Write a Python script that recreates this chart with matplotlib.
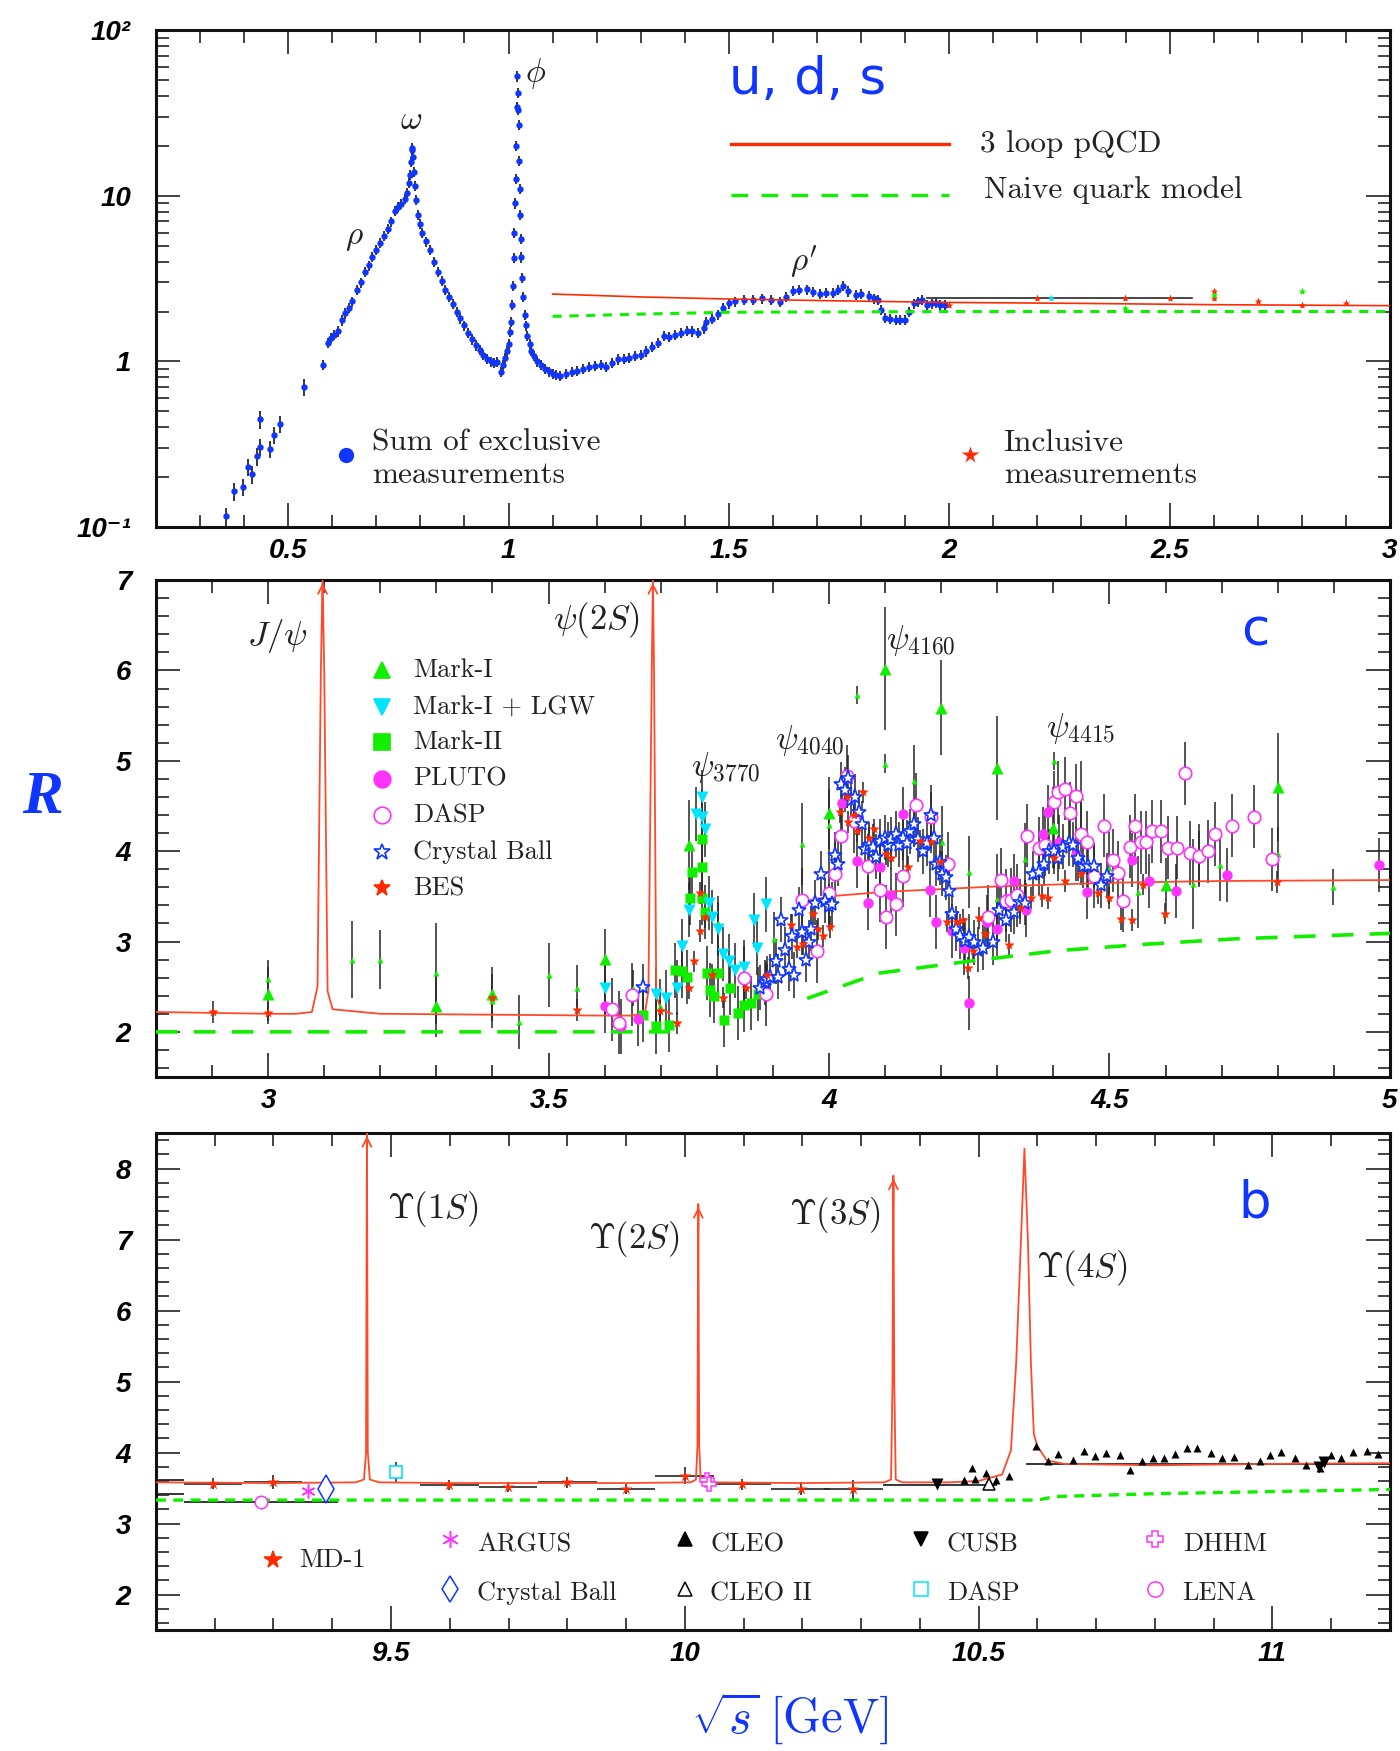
import numpy as np
import matplotlib
matplotlib.use("Agg")
import matplotlib.pyplot as plt
from matplotlib.ticker import MultipleLocator, LogLocator, NullFormatter

plt.rcParams['mathtext.fontset'] = 'cm'

BLUE = '#0f35ff'
RED = '#ff2a00'
LRED = '#ff4a2a'
GREEN = '#11ee00'
CYAN = '#00e5ff'
MAGENTA = '#ff33ff'
ERRC = '#262626'
TXT = '#222222'
SERIF = 'cmr10'

# ---------------- panel 1: u, d, s (log scale) ----------------
excl_x = [0.359, 0.378, 0.397, 0.408, 0.418, 0.429, 0.436, 0.437, 0.458, 0.467, 0.481, 0.537, 0.578,
          0.590, 0.597, 0.604, 0.612, 0.622, 0.630, 0.637, 0.645, 0.657, 0.665, 0.674, 0.683, 0.691,
          0.700, 0.709, 0.718, 0.726, 0.734, 0.742, 0.750, 0.757, 0.764, 0.770, 0.774, 0.776, 0.778,
          0.780, 0.782, 0.783, 0.785, 0.787, 0.790, 0.794, 0.799, 0.804, 0.812, 0.822, 0.830, 0.839,
          0.848, 0.857, 0.866, 0.874, 0.882, 0.891, 0.900, 0.909, 0.917, 0.926, 0.935, 0.943, 0.952,
          0.961, 0.968, 0.974, 0.983, 0.987, 0.991, 0.996, 1.000, 1.004, 1.006, 1.008, 1.010, 1.012,
          1.013, 1.015, 1.017, 1.018, 1.019, 1.020, 1.021, 1.022, 1.023, 1.024, 1.025, 1.026, 1.028,
          1.029, 1.031, 1.033, 1.037, 1.040, 1.043, 1.048, 1.052, 1.058, 1.065, 1.074, 1.083, 1.092,
          1.100, 1.108, 1.117, 1.130, 1.143, 1.156, 1.170, 1.183, 1.196, 1.209, 1.222, 1.235, 1.248,
          1.261, 1.274, 1.287, 1.300, 1.313, 1.326, 1.339, 1.352, 1.365, 1.378, 1.391, 1.404, 1.417,
          1.430, 1.444, 1.448, 1.461, 1.475, 1.487, 1.500, 1.515, 1.535, 1.555, 1.576, 1.596, 1.616,
          1.630, 1.646, 1.660, 1.677, 1.690, 1.707, 1.720, 1.737, 1.748, 1.758, 1.770, 1.788, 1.800,
          1.818, 1.830, 1.838, 1.846, 1.854, 1.866, 1.879, 1.889, 1.899, 1.909, 1.919, 1.929, 1.939,
          1.950, 1.960, 1.970, 1.980, 1.990]
excl_y = [0.116, 0.164, 0.175, 0.23, 0.208, 0.267, 0.305, 0.446, 0.295, 0.36, 0.418, 0.698, 0.95,
          1.30, 1.38, 1.45, 1.52, 1.77, 1.95, 2.11, 2.30, 2.71, 3.0, 3.47, 3.8, 4.28,
          4.7, 5.17, 5.7, 6.32, 7.0, 8.1, 8.6, 8.96, 9.6, 10.4, 12.0, 13.4, 16.0,
          18.9, 19.5, 17.1, 14.0, 11.5, 9.4, 7.7, 6.8, 6.0, 5.3, 4.69, 4.0, 3.47,
          3.05, 2.71, 2.45, 2.22, 2.0, 1.82, 1.65, 1.49, 1.36, 1.25, 1.17, 1.10, 1.04,
          1.0, 0.98, 0.996, 0.86, 0.95, 1.05, 1.15, 1.28, 1.5, 1.73, 2.2, 2.85, 4.2,
          6.0, 9.0, 12.7, 20.0, 34.4, 52.6, 42.0, 33.0, 26.9, 16.3, 11.0, 7.7, 5.5,
          4.25, 3.2, 2.46, 1.91, 1.65, 1.42, 1.28, 1.16, 1.08, 1.0, 0.95, 0.905, 0.87,
          0.84, 0.83, 0.82, 0.84, 0.86, 0.88, 0.905, 0.93, 0.94, 0.95, 0.93, 0.98, 1.03,
          1.04, 1.05, 1.08, 1.10, 1.15, 1.22, 1.30, 1.42, 1.40, 1.45, 1.48, 1.53, 1.52,
          1.49, 1.58, 1.73, 1.80, 1.92, 2.10, 2.24, 2.30, 2.34, 2.36, 2.40, 2.35, 2.29,
          2.45, 2.66, 2.70, 2.72, 2.62, 2.57, 2.60, 2.59, 2.70, 2.87, 2.65, 2.53, 2.55,
          2.47, 2.40, 2.35, 2.05, 1.83, 1.80, 1.79, 1.78, 1.79, 2.00, 2.24, 2.30, 2.34,
          2.20, 2.24, 2.25, 2.18, 2.20]
EXCL_REL_ERR_LOW = 0.12   # below 0.55 GeV
EXCL_REL_ERR = 0.07

incl_red_x = [2.0, 2.2, 2.4, 2.5, 2.6, 2.6, 2.7, 2.8, 2.9]
incl_red_y = [2.20, 2.40, 2.40, 2.40, 2.66, 2.40, 2.33, 2.18, 2.24]
incl_green_x = [2.4, 2.6, 2.8]
incl_green_y = [2.10, 2.53, 2.66]
incl_cyan_x = [2.232]
incl_cyan_y = [2.40]
incl_bar = (1.95, 2.55, 2.40)

pqcd1_x = [1.10, 1.30, 1.50, 1.75, 2.00, 2.30, 2.60, 3.00]
pqcd1_y = [2.55, 2.45, 2.38, 2.32, 2.27, 2.24, 2.20, 2.17]
naive1_x = [1.10, 1.30, 1.50, 2.00, 3.00]
naive1_y = [1.87, 1.93, 1.98, 2.00, 2.00]

# ---------------- panel 2: charm region ----------------
pqcd2_x = [2.80, 2.90, 3.00, 3.05, 3.078, 3.088, 3.094, 3.097, 3.100, 3.106, 3.115, 3.20, 3.40, 3.60,
           3.650, 3.672, 3.678, 3.684, 3.686, 3.688, 3.692, 3.700, 3.720, np.nan,
           3.96, 4.00, 4.10, 4.20, 4.30, 4.50, 4.70, 5.00]
pqcd2_y = [2.22, 2.21, 2.20, 2.20, 2.22, 2.50, 6.00, 7.00, 6.00, 2.45, 2.25, 2.20, 2.19, 2.18,
           2.18, 2.22, 2.45, 6.00, 7.00, 6.00, 2.40, 2.25, 2.20, np.nan,
           3.45, 3.50, 3.55, 3.58, 3.61, 3.65, 3.67, 3.68]
peaks2_x = [3.097, 3.686]
naive2_x = [2.80, 3.716, np.nan, 3.961, 4.089, 4.248, 4.410, 4.565, 4.725, 5.00]
naive2_y = [2.00, 2.00, np.nan, 2.37, 2.65, 2.78, 2.90, 2.97, 3.03, 3.09]

mk1_big_x = [3.00, 3.30, 3.40, 3.60, 3.75, 4.00, 4.10, 4.20, 4.30, 4.40, 4.60, 4.80]
mk1_big_y = [2.42, 2.29, 2.42, 2.81, 4.07, 4.42, 6.02, 5.59, 4.92, 4.26, 3.62, 4.71]
mk1_big_e = [0.30, 0.35, 0.30, 0.33, 0.50, 0.40, 0.68, 0.53, 0.58, 0.45, 0.30, 0.60]
mk1_sm_x = [3.00, 3.15, 3.20, 3.30, 3.40, 3.448, 3.50, 3.55, 3.65, 3.698, 3.802, 3.901, 3.951, 4.00,
            4.049, 4.099, 4.151, 4.201, 4.25, 4.30, 4.349, 4.401, 4.45, 4.50, 4.55, 4.649, 4.697,
            4.80, 4.898]
mk1_sm_y = [2.59, 2.80, 2.80, 2.65, 2.34, 2.11, 2.63, 2.49, 2.49, 2.29, 3.20, 3.03, 4.08, 4.29,
            5.73, 4.97, 4.78, 4.10, 3.77, 3.47, 3.91, 5.00, 4.60, 3.81, 3.55, 3.64, 3.85,
            3.97, 3.60]
mk1_sm_e = [0.20, 0.43, 0.33, 0.56, 0.30, 0.30, 0.35, 0.25, 0.20, 0.30, 0.30, 0.30, 0.45, 0.40,
            0.10, 0.10, 0.40, 0.40, 0.40, 0.50, 0.40, 0.10, 0.40, 0.40, 0.40, 0.50, 0.40,
            0.30, 0.20]

lgw_x = [3.600, 3.692, 3.710, 3.729, 3.738, 3.750, 3.762, 3.774, 3.774, 3.779, 3.786, 3.792, 3.802,
         3.811, 3.821, 3.832, 3.849, 3.867, 3.871, 3.887]
lgw_y = [2.48, 2.42, 2.38, 2.49, 2.95, 3.35, 4.41, 4.60, 4.38, 4.24, 3.43, 3.27, 3.14,
         2.86, 2.78, 2.68, 2.72, 3.24, 2.93, 3.41]
LGW_ERR = 0.30

mk2_x = [3.669, 3.692, 3.714, 3.726, 3.738, 3.746, 3.752, 3.756, 3.774, 3.774, 3.774, 3.778, 3.782,
         3.802, 3.787, 3.795, 3.813, 3.823, 3.837, 3.849, 3.861, 3.873]
mk2_y = [2.19, 2.06, 2.08, 2.68, 2.67, 2.61, 3.48, 3.77, 4.13, 3.83, 3.48, 3.33, 2.65,
         2.65, 2.46, 2.40, 2.13, 2.49, 2.21, 2.30, 2.32, 2.42]
MK2_ERR = 0.30

pluto_x = [3.600, 3.629, 3.659, 4.024, 4.049, 4.070, 4.090, 4.111, 4.131, 4.180, 4.190, 4.220, 4.240,
           4.250, 4.282, 4.300, 4.329, 4.352, 4.381, 4.390, 4.410, 4.440, 4.460, 4.540, 4.570,
           4.619, 4.659, 4.710, 4.980]
pluto_y = [2.29, 2.06, 2.14, 4.53, 3.89, 3.43, 3.83, 3.51, 4.41, 3.57, 3.22, 3.12, 2.93,
           2.32, 3.22, 3.14, 3.67, 3.35, 4.19, 4.43, 4.10, 3.97, 3.55, 3.90, 3.67,
           3.56, 3.92, 3.74, 3.85]
PLUTO_ERR = 0.30

dasp_x = [3.613, 3.625, 3.649, 3.848, 3.887, 3.951, 3.978, 4.000, 4.010, 4.021, 4.032, 4.044, 4.070,
          4.090, 4.102, 4.119, 4.131, 4.155, 4.181, 4.213, 4.284, 4.306, 4.316, 4.325, 4.335,
          4.353, 4.375, 4.385, 4.401, 4.409, 4.421, 4.430, 4.440, 4.450, 4.460, 4.472, 4.490,
          4.506, 4.516, 4.525, 4.536, 4.546, 4.556, 4.565, 4.575, 4.591, 4.605, 4.621, 4.635,
          4.643, 4.659, 4.675, 4.689, 4.718, 4.758, 4.790]
dasp_y = [2.25, 2.10, 2.41, 2.60, 2.42, 3.46, 2.89, 3.54, 3.75, 4.17, 4.83, 4.33, 3.84,
          3.57, 3.27, 3.41, 3.73, 4.51, 4.38, 3.86, 3.27, 3.68, 3.45, 3.46, 3.51,
          4.17, 4.03, 4.07, 4.54, 4.65, 4.69, 4.42, 4.61, 4.19, 4.10, 3.72, 4.28,
          3.90, 3.76, 3.45, 4.05, 4.28, 4.10, 4.10, 4.22, 4.22, 4.04, 4.04, 4.86,
          3.98, 3.95, 4.00, 4.19, 4.28, 4.38, 3.91]
DASP_ERR = 0.35

cb_x = [3.669, 3.877, 3.885, 3.889, 3.895, 3.905, 3.909, 3.915, 3.921, 3.929, 3.934, 3.938, 3.946,
        3.952, 3.959, 3.964, 3.968, 3.975, 3.986, 3.992, 4.000, 4.006, 4.010, 4.016, 4.022,
        4.028, 4.033, 4.040, 4.046, 4.053, 4.058, 4.065, 4.071, 4.078, 4.084, 4.091, 4.099,
        4.105, 4.111, 4.119, 4.125, 4.131, 4.139, 4.144, 4.151, 4.159, 4.167, 4.175, 4.181,
        4.187, 4.190, 4.197, 4.202, 4.208, 4.214, 4.220, 4.226, 4.234, 4.242, 4.250, 4.258,
        4.266, 4.274, 4.292, 4.303, 4.316, 4.329, 4.340, 4.349, 4.363, 4.375, 4.383, 4.393,
        4.401, 4.409, 4.417, 4.427, 4.435, 4.443, 4.452, 4.462, 4.472, 4.484, 4.496]
cb_y = [2.50, 2.49, 2.55, 2.59, 2.61, 2.78, 2.61, 3.24, 2.91, 2.70, 3.06, 2.63, 3.35,
        3.10, 2.80, 2.99, 3.14, 3.43, 3.75, 3.45, 3.39, 3.41, 3.96, 3.86, 4.74,
        4.68, 4.81, 4.57, 4.60, 4.43, 4.30, 4.02, 4.07, 4.05, 3.94, 4.11, 4.15,
        4.07, 4.13, 4.19, 4.07, 4.15, 4.09, 4.22, 4.30, 4.13, 4.00, 4.09, 4.40,
        4.15, 3.86, 3.88, 3.75, 3.71, 3.56, 3.31, 3.14, 3.06, 3.01, 3.05, 2.99,
        2.91, 2.93, 2.99, 3.35, 3.24, 3.33, 3.44, 3.43, 3.75, 3.77, 3.86, 4.00,
        4.00, 3.92, 4.05, 4.09, 4.07, 3.92, 3.84, 3.84, 3.84, 3.62, 3.73]
CB_ERR = 0.25

bes_x = [2.901, 3.000, 3.399, 3.550, 3.698, 3.729, 3.750, 3.760, 3.770, 3.778, 3.770, 3.792, 3.811,
         3.852, 3.889, 3.933, 3.943, 3.954, 3.972, 3.980, 3.990, 4.002, 4.020, 4.032, 4.034,
         4.044, 4.049, 4.061, 4.071, 4.081, 4.102, 4.111, 4.140, 4.163, 4.181, 4.198, 4.210,
         4.229, 4.238, 4.248, 4.256, 4.268, 4.278, 4.321, 4.340, 4.360, 4.379, 4.390, 4.401,
         4.421, 4.450, 4.479, 4.500, 4.520, 4.540, 4.560, 4.599, 4.798]
bes_y = [2.22, 2.21, 2.38, 2.24, 2.23, 2.10, 2.48, 2.78, 3.54, 3.27, 3.12, 2.63, 2.38,
         2.48, 2.63, 3.18, 2.94, 2.97, 3.30, 3.14, 3.06, 3.16, 4.43, 4.60, 4.32,
         4.40, 4.22, 4.65, 4.15, 4.24, 3.97, 3.92, 3.83, 4.11, 4.10, 3.88, 3.22,
         3.22, 3.24, 2.71, 2.89, 3.26, 3.08, 2.96, 3.37, 3.48, 3.50, 3.48, 3.92,
         3.67, 3.75, 3.54, 3.48, 3.25, 3.24, 3.63, 3.31, 3.66]
BES_ERR = 0.12

# ---------------- panel 3: bottom (Upsilon) region ----------------
pqcd3_x = [9.10, 9.30, 9.440, 9.454, 9.4575, 9.459, 9.4605, 9.464, 9.480, 9.60, 9.90, 10.010, 10.019,
           10.0215, 10.023, 10.0245, 10.027, 10.040, 10.20, 10.340, 10.351, 10.3535, 10.355, 10.3565,
           10.359, 10.370, 10.45, 10.50, 10.540, 10.555, 10.564, 10.572, 10.578, 10.584, 10.589,
           10.594, 10.600, 10.616, 10.646, 10.80, 11.00, 11.20]
pqcd3_y = [3.58, 3.57, 3.58, 3.62, 4.00, 8.60, 4.00, 3.62, 3.58, 3.57, 3.57, 3.58, 3.62,
           4.10, 7.50, 4.10, 3.62, 3.58, 3.57, 3.58, 3.62, 5.00, 7.90, 5.00,
           3.62, 3.58, 3.58, 3.60, 3.69, 4.03, 5.27, 6.97, 8.28, 6.97, 5.27,
           4.26, 4.09, 3.89, 3.84, 3.82, 3.84, 3.85]
peaks3_x = [9.459, 10.023, 10.355]
peaks3_top = [8.5, 7.5, 7.9]
naive3_x = [9.10, 10.60, 10.63, 10.80, 11.00, 11.20]
naive3_y = [3.33, 3.33, 3.38, 3.42, 3.45, 3.48]

md1_x = [9.197, 9.299, 9.599, 9.699, 9.800, 9.900, 10.000, 10.097, 10.197, 10.287]
md1_y = [3.56, 3.59, 3.54, 3.51, 3.58, 3.49, 3.67, 3.55, 3.49, 3.48]
md1_e = [0.08, 0.10, 0.07, 0.07, 0.08, 0.07, 0.12, 0.08, 0.09, 0.14]
MD1_XERR = 0.05

cleo_x = [10.475, 10.489, 10.494, 10.513, 10.530, 10.551, 10.598, 10.618, 10.635, 10.660, 10.680,
          10.698, 10.717, 10.740, 10.758, 10.778, 10.797, 10.816, 10.835, 10.854, 10.872, 10.896,
          10.915, 10.935, 10.958, 10.979, 10.996, 11.015, 11.038, 11.058, 11.081, 11.100, 11.116,
          11.138, 11.161, 11.179]
cleo_y = [3.62, 3.78, 3.63, 3.71, 3.62, 3.67, 4.09, 3.88, 3.98, 3.90, 4.02,
          3.95, 3.99, 3.97, 3.76, 3.88, 3.92, 3.92, 3.98, 4.06, 4.06, 3.99,
          3.92, 3.93, 3.82, 3.88, 3.97, 4.01, 3.92, 3.82, 3.78, 3.96, 3.92,
          4.01, 4.02, 3.98]
cusb_x = [10.429, 11.080, 11.088]
cusb_y = [3.55, 3.80, 3.86]
cleo2_x = [10.518]
cleo2_y = [3.55]
argus_x = [9.358]
argus_y = [3.46]
cball3_x = [9.389]
cball3_y = [3.48]
dasp3_x = [9.509]
dasp3_y = [3.72]
dasp3_e = [0.14]
dhhm_x = [10.037, 10.042]
dhhm_y = [3.61, 3.56]
lena_x = [9.279]
lena_y = [3.31]
hbar_x0 = [9.100, 9.100, 9.148, 10.338, 10.580]
hbar_x1 = [9.148, 9.148, 9.410, 10.532, 11.200]
hbar_y = [3.62, 3.41, 3.31, 3.54, 3.84]


def style_axes(ax, xticks, xlabels, yticks=None, ylabels=None):
    lab = dict(fontstyle='italic', fontweight='bold', family=['Liberation Sans', 'DejaVu Sans'],
               fontsize=20)
    ax.set_xticks(xticks, xlabels, **lab)
    if yticks is not None:
        ax.set_yticks(yticks, ylabels, **lab)
    ax.xaxis.set_minor_locator(MultipleLocator(0.1))
    ax.tick_params(which='both', direction='in', top=True, right=True, width=1.2, color='#222222')
    ax.tick_params(which='major', length=17)
    ax.tick_params(which='minor', length=9)
    ax.tick_params(axis='x', which='major', pad=8)
    ax.tick_params(axis='y', which='major', pad=18)
    for s in ax.spines.values():
        s.set_linewidth(2.2)
        s.set_color('#111111')


fig = plt.figure(figsize=(14, 17.51), dpi=100)
ax1 = fig.add_axes([0.1114, 0.6990, 0.8814, 0.2838])
ax2 = fig.add_axes([0.1114, 0.3849, 0.8814, 0.2838])
ax3 = fig.add_axes([0.1114, 0.0691, 0.8814, 0.2838])

# ---------- panel 1 ----------
ex = np.array(excl_x)
ey = np.array(excl_y)
rel = np.where(ex < 0.55, EXCL_REL_ERR_LOW, EXCL_REL_ERR)
ax1.errorbar(ex, ey, yerr=ey * rel, fmt='none', ecolor=ERRC, elinewidth=1.3, zorder=2)
ax1.plot(ex, ey, 'o', ms=4.6, color=BLUE, mec='none', zorder=3)
ax1.plot(pqcd1_x, pqcd1_y, '-', color=RED, lw=1.2, zorder=4)
ax1.plot(naive1_x, naive1_y, color=GREEN, lw=2.2, ls=(0, (3, 2.5)), zorder=4)
ax1.plot([incl_bar[0], incl_bar[1]], [incl_bar[2], incl_bar[2]], color=ERRC, lw=1.2, zorder=2)
ax1.errorbar(incl_red_x, incl_red_y, yerr=0.06, fmt='none', ecolor=ERRC, elinewidth=1, zorder=2)
ax1.plot(incl_red_x, incl_red_y, '*', ms=6, color=RED, mec='none', zorder=5)
ax1.plot(incl_green_x, incl_green_y, '*', ms=6, color=GREEN, mec='none', zorder=5)
ax1.plot(incl_cyan_x, incl_cyan_y, '*', ms=6, color=CYAN, mec='none', zorder=5)
ax1.set_yscale('log')
ax1.set_xlim(0.2, 3.0)
ax1.set_ylim(0.1, 100)
style_axes(ax1, [0.5, 1, 1.5, 2, 2.5, 3], ['0.5', '1', '1.5', '2', '2.5', '3'],
           [0.1, 1, 10, 100], ['10\u207b\u00b9', '1', '10', '10\u00b2'])
ax1.yaxis.set_minor_locator(LogLocator(base=10, subs=np.arange(2, 10)))
ax1.yaxis.set_minor_formatter(NullFormatter())

T = ax1.transAxes
ax1.text(0.161, 0.584, r'$\rho$', transform=T, fontsize=24, color=TXT, ha='center', va='center')
ax1.text(0.207, 0.821, r'$\omega$', transform=T, fontsize=24, color=TXT, ha='center', va='center')
ax1.text(0.308, 0.913, r'$\phi$', transform=T, fontsize=24, color=TXT, ha='center', va='center')
ax1.text(0.525, 0.533, r"$\rho'$", transform=T, fontsize=24, color=TXT, ha='center', va='center')
ax1.text(0.528, 0.899, 'u, d, s', transform=T, fontsize=37, color=BLUE, ha='center', va='center',
         family='DejaVu Sans')
ax1.plot([0.466, 0.643], [0.771, 0.771], transform=T, color=RED, lw=2.4)
ax1.plot([0.466, 0.643], [0.668, 0.668], transform=T, color=GREEN, lw=2.4, ls=(0, (5, 4)))
ax1.text(0.668, 0.771, '3 loop pQCD', transform=T, fontsize=22.5, family=SERIF, color=TXT,
         va='center')
ax1.text(0.671, 0.678, 'Naive quark model', transform=T, fontsize=22.5, family=SERIF, color=TXT,
         va='center')
ax1.plot([0.154], [0.145], 'o', transform=T, ms=11, color=BLUE, mec='none')
ax1.text(0.175, 0.137, 'Sum of exclusive\nmeasurements', transform=T, fontsize=22.5, family=SERIF,
         color=TXT, va='center', linespacing=1.2)
ax1.plot([0.660], [0.145], '*', transform=T, ms=13, color=RED, mec='none')
ax1.text(0.687, 0.137, 'Inclusive\nmeasurements', transform=T, fontsize=22.5, family=SERIF,
         color=TXT, va='center', linespacing=1.2)

# ---------- panel 2 ----------
ebk = dict(fmt='none', ecolor=ERRC, elinewidth=1.1, zorder=2)
ax2.errorbar(mk1_big_x, mk1_big_y, yerr=mk1_big_e, **ebk)
ax2.errorbar(mk1_sm_x, mk1_sm_y, yerr=mk1_sm_e, **ebk)
ax2.errorbar(lgw_x, lgw_y, yerr=LGW_ERR, **ebk)
ax2.errorbar(mk2_x, mk2_y, yerr=MK2_ERR, **ebk)
ax2.errorbar(pluto_x, pluto_y, yerr=PLUTO_ERR, **ebk)
ax2.errorbar(dasp_x, dasp_y, yerr=DASP_ERR, **ebk)
ax2.errorbar(cb_x, cb_y, yerr=CB_ERR, **ebk)
ax2.errorbar(bes_x, bes_y, yerr=BES_ERR, **ebk)

ax2.plot(pqcd2_x, pqcd2_y, '-', color=LRED, lw=1.3, zorder=3)
ax2.plot(naive2_x, naive2_y, color=GREEN, lw=2.6, ls=(0, (6, 4.5)), zorder=3)
for px in peaks2_x:
    ax2.annotate('', xy=(px, 7.0), xytext=(px, 6.5),
                 arrowprops=dict(arrowstyle='->', color=LRED, lw=1.3, mutation_scale=16))

ax2.plot(mk2_x, mk2_y, 's', ms=7.5, color=GREEN, mec='none', zorder=4)
ax2.plot(mk1_big_x, mk1_big_y, '^', ms=8.5, color=GREEN, mec='none', zorder=4)
ax2.plot(mk1_sm_x, mk1_sm_y, '^', ms=4.5, color=GREEN, mec='none', zorder=4)
ax2.plot(lgw_x, lgw_y, 'v', ms=8.5, color=CYAN, mec='none', zorder=4)
ax2.plot(pluto_x, pluto_y, 'o', ms=7.5, color=MAGENTA, mec='none', zorder=4)
ax2.plot(dasp_x, dasp_y, 'o', ms=9, mfc='white', mec=MAGENTA, mew=1.2, zorder=4)
ax2.plot(cb_x, cb_y, '*', ms=11, mfc='white', mec=BLUE, mew=1.2, zorder=5)
ax2.plot(bes_x, bes_y, '*', ms=7.5, color=RED, mec='none', zorder=6)

ax2.set_xlim(2.8, 5.0)
ax2.set_ylim(1.5, 7.0)
style_axes(ax2, [3, 3.5, 4, 4.5, 5], ['3', '3.5', '4', '4.5', '5'],
           [2, 3, 4, 5, 6, 7], ['2', '3', '4', '5', '6', '7'])
ax2.yaxis.set_minor_locator(MultipleLocator(0.2))

T = ax2.transAxes
ax2.text(0.098, 0.887, r'$J/\psi$', transform=T, fontsize=25, color=TXT, ha='center', va='center')
ax2.text(0.357, 0.920, r'$\psi(2S)$', transform=T, fontsize=25, color=TXT, ha='center', va='center')
ax2.text(0.462, 0.622, r'$\psi_{3770}$', transform=T, fontsize=24, color=TXT, ha='center', va='center')
ax2.text(0.530, 0.678, r'$\psi_{4040}$', transform=T, fontsize=24, color=TXT, ha='center', va='center')
ax2.text(0.620, 0.879, r'$\psi_{4160}$', transform=T, fontsize=24, color=TXT, ha='center', va='center')
ax2.text(0.749, 0.702, r'$\psi_{4415}$', transform=T, fontsize=24, color=TXT, ha='center', va='center')
ax2.text(0.891, 0.897, 'c', transform=T, fontsize=37, color=BLUE, ha='center', va='center',
         family='DejaVu Sans')

leg2 = [('^', GREEN, GREEN, 'Mark-I'), ('v', CYAN, CYAN, 'Mark-I + LGW'),
        ('s', GREEN, GREEN, 'Mark-II'), ('o', MAGENTA, MAGENTA, 'PLUTO'),
        ('o', 'white', MAGENTA, 'DASP'), ('*', 'white', BLUE, 'Crystal Ball'),
        ('*', RED, RED, 'BES')]
rows2 = [0.819, 0.744, 0.674, 0.600, 0.527, 0.453, 0.380]
for (m, fc, ec, name), ry in zip(leg2, rows2):
    ax2.plot([0.183], [ry], m, transform=T, ms=12, mfc=fc, mec=ec, mew=1.2)
    ax2.text(0.208, ry, name, transform=T, fontsize=19, family=SERIF, color=TXT, va='center')

# ---------- panel 3 ----------
ax3.plot(pqcd3_x, pqcd3_y, '-', color=LRED, lw=1.3, zorder=3)
ax3.plot(naive3_x, naive3_y, color=GREEN, lw=2.4, ls=(0, (3, 2.2)), zorder=3)
for px, top in zip(peaks3_x, peaks3_top):
    ax3.annotate('', xy=(px, top), xytext=(px, top - 0.4),
                 arrowprops=dict(arrowstyle='->', color=LRED, lw=1.3, mutation_scale=16))
ax3.hlines(hbar_y, hbar_x0, hbar_x1, color=ERRC, lw=1.3, zorder=2)
ax3.errorbar(md1_x, md1_y, yerr=md1_e, xerr=MD1_XERR, fmt='none', ecolor=ERRC, elinewidth=1.2,
             zorder=2)
ax3.errorbar(dasp3_x, dasp3_y, yerr=dasp3_e, fmt='none', ecolor=ERRC, elinewidth=1.1, zorder=2)
ax3.plot(md1_x, md1_y, '*', ms=9, color=RED, mec='none', zorder=5)
ax3.plot(cleo_x, cleo_y, '^', ms=5.5, color='black', mec='none', zorder=5)
ax3.plot(cusb_x, cusb_y, 'v', ms=8, color='black', mec='none', zorder=5)
ax3.plot(cleo2_x, cleo2_y, '^', ms=9, mfc='white', mec='black', mew=1.1, zorder=5)
ax3.plot(argus_x, argus_y, marker=(6, 2, 0), ms=10, color=MAGENTA, mew=1.1, ls='none', zorder=5)
ax3.plot(cball3_x, cball3_y, 'd', ms=14, mfc='white', mec=BLUE, mew=1.1, zorder=5)
ax3.plot(dasp3_x, dasp3_y, 's', ms=8.5, mfc='white', mec=CYAN, mew=1.2, zorder=5)
ax3.plot(dhhm_x, dhhm_y, 'P', ms=10, mfc='white', mec=MAGENTA, mew=1.1, zorder=5)
ax3.plot(lena_x, lena_y, 'o', ms=9, mfc='white', mec=MAGENTA, mew=1.1, zorder=5)

ax3.set_xlim(9.1, 11.2)
ax3.set_ylim(1.5, 8.5)
style_axes(ax3, [9.5, 10, 10.5, 11], ['9.5', '10', '10.5', '11'],
           [2, 3, 4, 5, 6, 7, 8], ['2', '3', '4', '5', '6', '7', '8'])
ax3.yaxis.set_minor_locator(MultipleLocator(0.2))

T = ax3.transAxes
ax3.text(0.224, 0.847, r'$\Upsilon(1S)$', transform=T, fontsize=25, color=TXT, ha='center', va='center')
ax3.text(0.387, 0.787, r'$\Upsilon(2S)$', transform=T, fontsize=25, color=TXT, ha='center', va='center')
ax3.text(0.550, 0.835, r'$\Upsilon(3S)$', transform=T, fontsize=25, color=TXT, ha='center', va='center')
ax3.text(0.750, 0.728, r'$\Upsilon(4S)$', transform=T, fontsize=25, color=TXT, ha='center', va='center')
ax3.text(0.890, 0.859, 'b', transform=T, fontsize=37, color=BLUE, ha='center', va='center',
         family='DejaVu Sans')

leg3 = [(0.095, 0.141, 0.116, 0.141, '*', RED, RED, 'MD-1', 13),
        (0.238, 0.184, 0.260, 0.172, (6, 2, 0), MAGENTA, MAGENTA, 'ARGUS', 12),
        (0.238, 0.083, 0.260, 0.074, 'd', 'white', BLUE, 'Crystal Ball', 13),
        (0.429, 0.184, 0.449, 0.172, '^', 'black', 'black', 'CLEO', 10),
        (0.429, 0.083, 0.449, 0.074, '^', 'white', 'black', 'CLEO II', 10),
        (0.620, 0.184, 0.641, 0.172, 'v', 'black', 'black', 'CUSB', 10),
        (0.620, 0.083, 0.641, 0.074, 's', 'white', CYAN, 'DASP', 10),
        (0.810, 0.184, 0.832, 0.172, 'P', 'white', MAGENTA, 'DHHM', 11),
        (0.810, 0.083, 0.832, 0.074, 'o', 'white', MAGENTA, 'LENA', 11)]
for mx, my, tx, ty, m, fc, ec, name, ms in leg3:
    ax3.plot([mx], [my], marker=m, transform=T, ms=ms, mfc=fc, mec=ec, mew=1.1, ls='none')
    ax3.text(tx, ty, name, transform=T, fontsize=19, family=SERIF, color=TXT, va='center')

# ---------- axis titles ----------
fig.text(0.030, 0.5443, 'R', fontsize=44, color=BLUE, family='Liberation Serif', fontweight='bold',
         fontstyle='italic', ha='center', va='center')
fig.text(0.564, 0.0183, r'$\sqrt{s}\;[\mathrm{GeV}]$', fontsize=35, color=BLUE, ha='center',
         va='center')

fig.savefig('out.png', dpi=100)
